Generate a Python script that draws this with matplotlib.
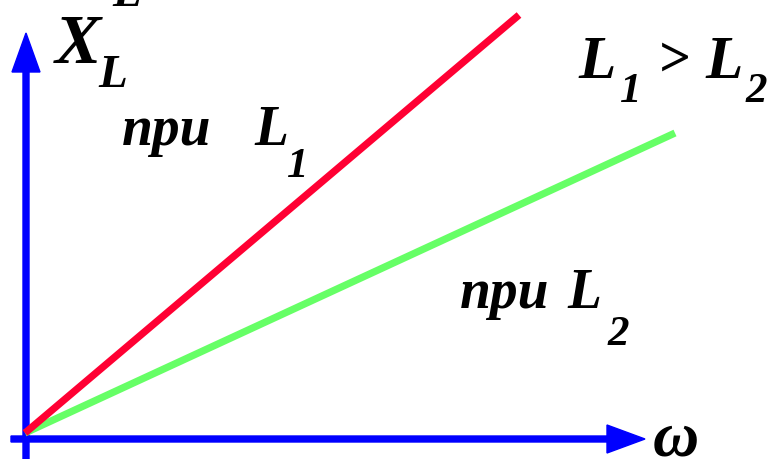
import matplotlib
matplotlib.use("Agg")
import matplotlib.pyplot as plt

# reactance X_L = omega * L for two inductances
omega_1 = [0, 494]
x_l1 = [0, 418]
omega_2 = [0, 650]
x_l2 = [0, 300]

RED = "#ff0033"
GREEN = "#66ff66"
BLUE = "#0000ff"

fig = plt.figure(figsize=(7.72, 4.59), dpi=100)
ax = fig.add_axes([0, 0, 1, 1])
ax.set_xlim(-25, 747)
ax.set_ylim(-26, 433)
ax.axis("off")


def P(px, py):
    # pixel position in the picture -> data coords
    return px - 25, 433 - py


font = dict(family="Liberation Serif", weight="bold", style="italic", color="black")


def txt(px, py, s, size):
    x, y = P(px, py)
    ax.text(x, y, s, fontsize=size, ha="left", va="baseline", **font)


# axes arrows
x0, y0 = P(26, 459)
x1, y1 = P(26, 33)
ax.arrow(x0, y0, 0, y1 - y0, width=6, head_width=28, head_length=39,
         length_includes_head=True, color=BLUE, zorder=1)
x0, y0 = P(11, 439)
x1, y1 = P(645, 439)
ax.arrow(x0, y0, x1 - x0, 0, width=6, head_width=28, head_length=38,
         length_includes_head=True, color=BLUE, zorder=1)

ax.plot(omega_2, x_l2, color=GREEN, lw=5.2, solid_capstyle="butt", zorder=2)
ax.plot(omega_1, x_l1, color=RED, lw=5.2, solid_capstyle="butt", zorder=3)

# labels
txt(112, 6, "L", 34)
txt(55, 63, "X", 50)
txt(98, 87, "L", 34)

txt(122, 145, "npu", 40)
txt(254, 145, "L", 40)
txt(287, 177, "1", 31)

txt(460, 308, "npu", 40)
txt(567, 308, "L", 40)
txt(608, 345, "2", 31)

txt(578, 78, "L", 44)
txt(620, 102, "1", 31)
txt(658, 76, ">", 40)
txt(705, 78, "L", 44)
txt(746, 102, "2", 31)

txt(653, 456, "ω", 46)

fig.savefig("out.png", dpi=100)
